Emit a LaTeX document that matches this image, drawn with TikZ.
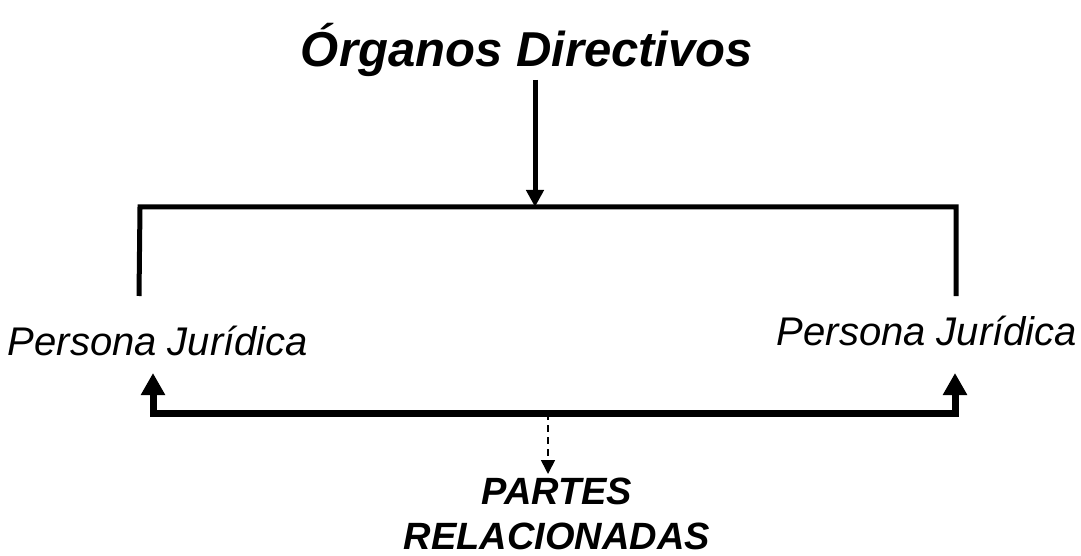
\documentclass[tikz,border=0pt]{standalone}
\usepackage{fontspec}
\setmainfont{Liberation Sans}
\usetikzlibrary{arrows.meta}
\begin{document}
\begin{tikzpicture}[x=1pt,y=-1pt,
  lbl/.style={inner sep=0pt,font=\fontsize{40}{46}\selectfont\itshape},
  ttl/.style={inner sep=0pt,font=\fontsize{49}{58}\selectfont\bfseries\itshape},
  prt/.style={inner sep=0pt,align=center,font=\fontsize{38}{45}\selectfont\bfseries\itshape},
  heavy/.style={line width=5pt},
  bigtip/.style={-{Triangle[width=17pt,length=17pt]}},
  dbltip/.style={{Triangle[width=23pt,length=22pt]}-{Triangle[width=23pt,length=22pt]}}
]
\useasboundingbox (0,0) rectangle (1081,556);
% texts
\node[ttl,anchor=base] (title) at (527,67) {Órganos Directivos};
\node[lbl,anchor=base] (pjl) at (158,355) {Persona Jurídica};
\node[lbl,anchor=base] (pjr) at (927,345) {Persona Jurídica};
\node[prt,anchor=base] (partes) at (557,549) {PARTES\\RELACIONADAS};
% coordinates
\coordinate (ts) at (535,80);
\coordinate (tm) at (535,207);
\coordinate (btl) at (140,207);
\coordinate (btr) at (956,207);
\coordinate (bbl) at (139,296);
\coordinate (bbr) at (956,296);
\coordinate (la) at (153,373);
\coordinate (lc) at (153,413);
\coordinate (rc) at (955,413);
\coordinate (ra) at (955,373);
\coordinate (dm) at (548,413);
\coordinate (dt) at (548,474);
% connectors
\draw[heavy,line join=miter] (bbl) -- (btl) -- (btr) -- (bbr);
\draw[heavy,bigtip] (ts) -- (tm);
\draw[line width=7pt,line join=miter,dbltip] (la) -- (lc) -- (rc) -- (ra);
\draw[line width=1.6pt,dash pattern=on 7pt off 5pt,-{Triangle[width=14pt,length=14pt]}] (dm) -- (dt);
\end{tikzpicture}
\end{document}
